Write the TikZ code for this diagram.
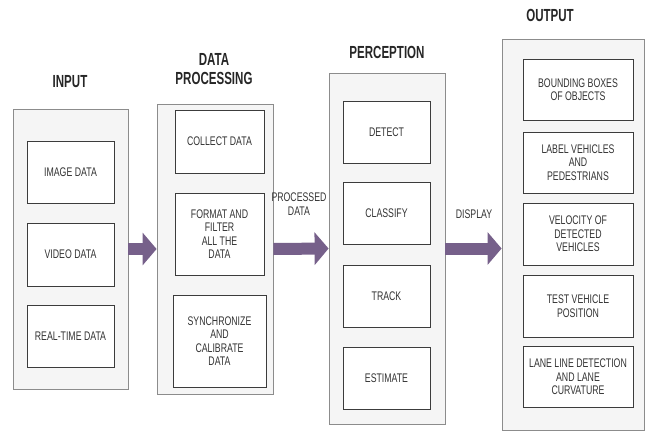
\documentclass[tikz,border=0pt]{standalone}
\usepackage{fontspec}
\newfontfamily\diagfont[FakeStretch=0.7]{Liberation Sans}
\newfontfamily\headfont[FakeStretch=0.66]{Liberation Sans}
\usetikzlibrary{arrows.meta, positioning}
\definecolor{panelgray}{HTML}{F5F5F5}
\definecolor{paneledge}{HTML}{8C8C8C}
\definecolor{boxedge}{HTML}{3C3C3C}
\definecolor{flowpurple}{HTML}{76608A}
\definecolor{textgray}{HTML}{333333}

\tikzset{
	panel/.style={draw=paneledge, fill=panelgray, line width=0.8pt, inner sep=0pt}
}
\tikzset{
	itembox/.style={draw=boxedge, fill=white, line width=0.7pt, align=center, inner sep=2pt,
		font=\diagfont\fontsize{12.5}{13.5}\selectfont\color{textgray}}
}
\tikzset{
	headtext/.style={align=center, font=\headfont\bfseries\fontsize{17.5}{19}\selectfont\color{black!85}}
}
\tikzset{
	flowtext/.style={align=center, font=\diagfont\fontsize{12.5}{14}\selectfont\color{textgray}}
}
\tikzset{
	flowarrow/.style={draw=flowpurple, line width=12pt, -{Triangle[length=14pt, width=32pt]}}
}

\begin{document}
\begin{tikzpicture}[x=1pt, y=-1pt]
\useasboundingbox (0,0) rectangle (646,432);

% stage panels
\node[panel, minimum width=115, minimum height=280] (inp) at (70.5,249) {};
\node[panel, minimum width=116, minimum height=290] (dp) at (215,249) {};
\node[panel, minimum width=116, minimum height=351] (perc) at (387,248.5) {};
\node[panel, minimum width=142, minimum height=391] (out) at (573,234.5) {};

\node[headtext] (inphead) at (70,82) {INPUT};
\node[headtext] (dphead) at (214,69.5) {DATA\\PROCESSING};
\node[headtext] (perchead) at (387,52) {PERCEPTION};
\node[headtext] (outhead) at (550,15) {OUTPUT};

% input
\node[itembox, minimum width=87, minimum height=62] (img) at (70.5,172.5) {IMAGE DATA};
\node[itembox, minimum width=87, minimum height=63] (vid) at (70.5,254.5) {VIDEO DATA};
\node[itembox, minimum width=87, minimum height=62] (rtd) at (70.5,336.5) {REAL-TIME DATA};

% data processing
\node[itembox, minimum width=89, minimum height=63] (collect) at (219.5,141.5) {COLLECT DATA};
\node[itembox, minimum width=89, minimum height=82] (format) at (219.5,234) {FORMAT AND\\FILTER\\ALL THE\\DATA};
\node[itembox, minimum width=93, minimum height=92] (sync) at (219.5,341) {SYNCHRONIZE\\AND\\CALIBRATE\\DATA};

% perception
\node[itembox, minimum width=87, minimum height=62] (detect) at (386.5,132) {DETECT};
\node[itembox, minimum width=87, minimum height=62] (classify) at (386.5,213.5) {CLASSIFY};
\node[itembox, minimum width=87, minimum height=62] (track) at (386.5,296) {TRACK};
\node[itembox, minimum width=87, minimum height=62] (estimate) at (386.5,378) {ESTIMATE};

% output
\node[itembox, minimum width=110, minimum height=61] (bbox) at (578,89.5) {BOUNDING BOXES\\OF OBJECTS};
\node[itembox, minimum width=110, minimum height=61] (label) at (578,162.5) {LABEL VEHICLES\\AND\\PEDESTRIANS};
\node[itembox, minimum width=110, minimum height=62] (velo) at (578,234) {VELOCITY OF\\DETECTED\\VEHICLES};
\node[itembox, minimum width=110, minimum height=62] (testpos) at (578,306) {TEST VEHICLE\\POSITION};
\node[itembox, minimum width=110, minimum height=61] (lane) at (578,377) {LANE LINE DETECTION\\AND LANE\\CURVATURE};

% flow between stages
\draw[flowarrow] (inp.east) -- (dp.west);
\draw[flowarrow] (dp.east) -- (perc.west);
\draw[flowarrow] (perc.east) -- (perc.east -| out.west);

\node[flowtext] (procdata) at (299,204) {PROCESSED\\DATA};
\node[flowtext] (display) at (474,214) {DISPLAY};

\end{tikzpicture}
\end{document}
